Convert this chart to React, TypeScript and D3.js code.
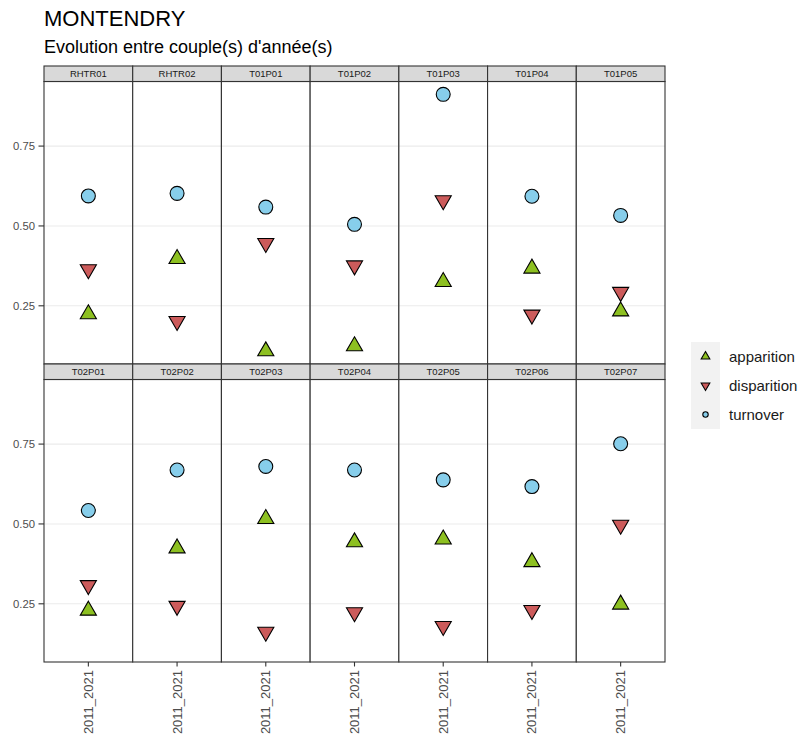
import React from "react";
import * as d3 from "d3";

const title = "MONTENDRY";
const subtitle = "Evolution entre couple(s) d'année(s)";
const sites = ["RHTR01", "RHTR02", "T01P01", "T01P02", "T01P03", "T01P04", "T01P05",
  "T02P01", "T02P02", "T02P03", "T02P04", "T02P05", "T02P06", "T02P07"];
const periods = ["2011_2021"];
const apparition = [0.224, 0.397, 0.108, 0.124, 0.325, 0.367, 0.233, 0.229, 0.424, 0.516, 0.443, 0.452, 0.381, 0.248];
const disparition = [0.364, 0.202, 0.446, 0.376, 0.580, 0.222, 0.293, 0.308, 0.243, 0.162, 0.223, 0.180, 0.230, 0.497];
const turnover = [0.594, 0.602, 0.559, 0.505, 0.912, 0.593, 0.533, 0.542, 0.669, 0.680, 0.669, 0.638, 0.617, 0.751];
const seriesNames = ["apparition", "disparition", "turnover"];
const yTicks = [0.25, 0.5, 0.75];

const W = 808, H = 737;
const FONT = "'Liberation Sans', Arial, sans-serif";
const COLORS: Record<string, string> = { apparition: "#8DC021", disparition: "#CC5B5B", turnover: "#87CEEB" };

function triPath(r: number, up: boolean) {
  const xc = r * Math.sqrt(3) / 2;
  const s = up ? 1 : -1;
  return `M0,${-s * r}L${xc},${s * r / 2}L${-xc},${s * r / 2}Z`;
}

function Marker({ kind, r }: { kind: string; r: number }) {
  if (kind === "turnover") return <circle r={r * 0.75} fill={COLORS[kind]} stroke="#000" strokeWidth={1.1} />;
  return <path d={triPath(r, kind === "apparition")} fill={COLORS[kind]} stroke="#000" strokeWidth={1.1} strokeLinejoin="miter" />;
}

export default function App() {
  const left = 44, right = 665, top = 66, stripH = 15.5, panelH = 282.5;
  const ncol = 7;
  const pw = (right - left) / ncol;
  const all = [...apparition, ...disparition, ...turnover];
  const [mn, mx] = d3.extent(all) as [number, number];
  const pad = (mx - mn) * 0.05;
  const fmt = d3.format(".2f");

  const rows = [0, 1].map((ri) => {
    const y0 = top + ri * (stripH + panelH);
    const py = y0 + stripH;
    const y = d3.scaleLinear().domain([mn - pad, mx + pad]).range([py + panelH, py]);
    return { ri, y0, py, y };
  });

  const series: Record<string, number[]> = { apparition, disparition, turnover };
  const drawOrder = ["disparition", "apparition", "turnover"];

  return (
    <svg width={W} height={H} style={{ position: "absolute", left: 0, top: 0 }} fontFamily={FONT}>
      <rect width={W} height={H} fill="#fff" />
      <text x={44} y={26} fontSize={22} fill="#000">{title}</text>
      <text x={44} y={53} fontSize={18} fill="#000">{subtitle}</text>
      {rows.map(({ ri, y0, py, y }) => (
        <g key={ri}>
          {yTicks.map((t) => (
            <g key={t}>
              <line x1={38.5} x2={left} y1={y(t)} y2={y(t)} stroke="#333" strokeWidth={1.1} />
              <text x={35} y={y(t)} dy="0.35em" textAnchor="end" fontSize={11.3} fill="#4D4D4D">{fmt(t)}</text>
            </g>
          ))}
          {d3.range(ncol).map((ci) => {
            const idx = ri * ncol + ci;
            const x0 = left + ci * pw;
            const x = d3.scalePoint().domain(periods).range([x0, x0 + pw]).padding(0.5);
            return (
              <g key={ci}>
                <rect x={x0} y={py} width={pw} height={panelH} fill="#fff" />
                {yTicks.map((t) => (
                  <line key={t} x1={x0} x2={x0 + pw} y1={y(t)} y2={y(t)} stroke="#EBEBEB" strokeWidth={1.1} />
                ))}
                {drawOrder.map((s) => (
                  <g key={s} transform={`translate(${x(periods[0])},${y(series[s][idx])})`}>
                    <Marker kind={s} r={9.3} />
                  </g>
                ))}
                <rect x={x0} y={py} width={pw} height={panelH} fill="none" stroke="#333" strokeWidth={1.1} />
                <rect x={x0} y={y0} width={pw} height={stripH} fill="#D9D9D9" stroke="#333" strokeWidth={1.1} />
                <text x={x0 + pw / 2} y={y0 + stripH / 2} dy="0.35em" textAnchor="middle" fontSize={9.5} fill="#1A1A1A">{sites[idx]}</text>
                {ri === 1 && periods.map((p) => (
                  <g key={p}>
                    <line x1={x(p)} x2={x(p)} y1={py + panelH} y2={py + panelH + 4.5} stroke="#333" strokeWidth={1.1} />
                    <text transform={`translate(${x(p)},${py + panelH + 8}) rotate(-90)`} dy="0.35em" textAnchor="end" fontSize={13} fill="#4D4D4D">{p}</text>
                  </g>
                ))}
              </g>
            );
          })}
        </g>
      ))}
      <g transform="translate(691,342)">
        {seriesNames.map((s, i) => (
          <g key={s} transform={`translate(0,${i * 29})`}>
            <rect width={29} height={29} fill="#F2F2F2" />
            <g transform="translate(14.5,14.5)">
              <Marker kind={s} r={s === "turnover" ? 3.6 : 5} />
            </g>
            <text x={38} y={14.5} dy="0.35em" fontSize={15} fill="#1A1A1A">{s}</text>
          </g>
        ))}
      </g>
    </svg>
  );
}
